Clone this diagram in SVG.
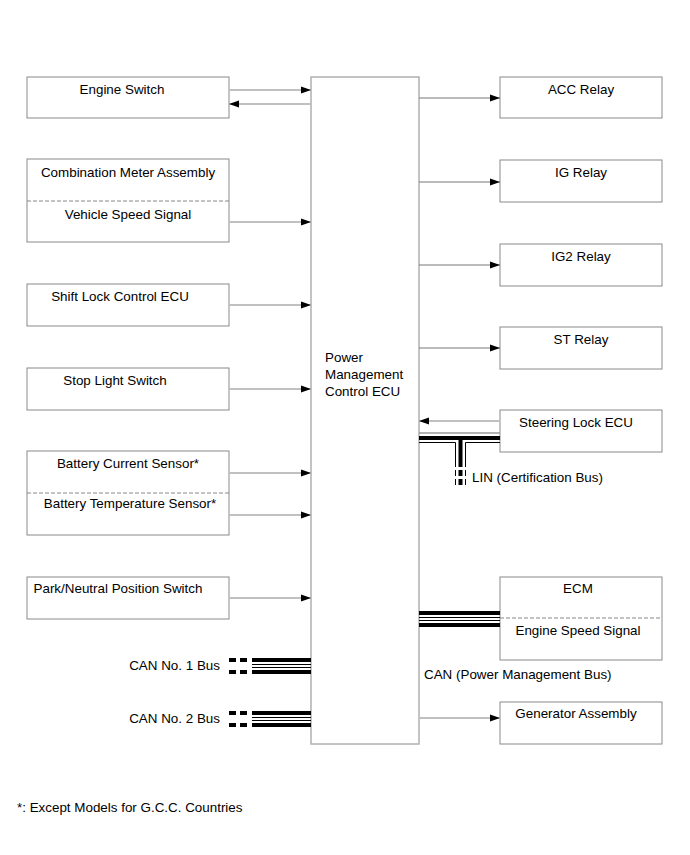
<svg xmlns="http://www.w3.org/2000/svg" width="690" height="855" viewBox="0 0 690 855">
<defs>
<marker id="ah" markerWidth="10" markerHeight="8" refX="10" refY="4" orient="auto" markerUnits="userSpaceOnUse">
<path d="M0,0.5 L10,4 L0,7.5 Z" fill="#000"/>
</marker>
<style>
.box{fill:#fff;stroke:#8a8a8a;stroke-width:1}
.ecu{fill:#fff;stroke:#b0b0b0;stroke-width:1.5}
.dash{stroke:#888;stroke-width:1;stroke-dasharray:4,2;fill:none}
.t{font-family:"Liberation Sans",Arial,sans-serif;font-size:13.4px;fill:#000}
.c{text-anchor:middle}
.la{stroke:#c0c0c0;stroke-width:2;fill:none;marker-end:url(#ah)}
.ra{stroke:#777;stroke-width:1;fill:none;marker-end:url(#ah)}
.bk{stroke:#000;stroke-width:4;fill:none}
.th{stroke:#000;stroke-width:1;fill:none}
.tg{stroke:#999;stroke-width:1.5;fill:none}
.bd{stroke:#000;stroke-width:4;fill:none;stroke-dasharray:7,4}
</style>
</defs>
<rect width="690" height="855" fill="#fff"/>

<g id="ecu">
<rect class="ecu" x="311" y="77" width="108" height="667"/>
<text class="t" x="325" y="362">Power</text>
<text class="t" x="325" y="379">Management</text>
<text class="t" x="325" y="396">Control ECU</text>
</g>

<g id="engine-switch">
<rect class="box" x="27" y="77" width="202" height="41"/>
<text class="t c" x="122" y="94">Engine Switch</text>
</g>
<g id="combination-meter">
<rect class="box" x="27" y="159" width="202" height="83"/>
<line class="dash" x1="27" y1="201" x2="229" y2="201"/>
<text class="t c" x="128" y="177">Combination Meter Assembly</text>
<text class="t c" x="128" y="219">Vehicle Speed Signal</text>
</g>
<g id="shift-lock">
<rect class="box" x="27" y="284" width="202" height="42"/>
<text class="t c" x="120" y="301">Shift Lock Control ECU</text>
</g>
<g id="stop-light">
<rect class="box" x="27" y="368" width="202" height="42"/>
<text class="t c" x="115" y="385">Stop Light Switch</text>
</g>
<g id="battery">
<rect class="box" x="27" y="451" width="202" height="84"/>
<line class="dash" x1="27" y1="493" x2="229" y2="493"/>
<text class="t c" x="128" y="468">Battery Current Sensor*</text>
<text class="t c" x="130" y="508">Battery Temperature Sensor*</text>
</g>
<g id="park-neutral">
<rect class="box" x="27" y="577" width="202" height="42"/>
<text class="t c" x="118" y="593">Park/Neutral Position Switch</text>
</g>

<g id="acc-relay">
<rect class="box" x="500" y="77" width="162" height="41"/>
<text class="t c" x="581" y="94">ACC Relay</text>
</g>
<g id="ig-relay">
<rect class="box" x="500" y="160" width="162" height="42"/>
<text class="t c" x="581" y="177">IG Relay</text>
</g>
<g id="ig2-relay">
<rect class="box" x="500" y="244" width="162" height="42"/>
<text class="t c" x="581" y="261">IG2 Relay</text>
</g>
<g id="st-relay">
<rect class="box" x="500" y="327" width="162" height="42"/>
<text class="t c" x="581" y="344">ST Relay</text>
</g>
<g id="steering-lock">
<rect class="box" x="500" y="410" width="162" height="42"/>
<text class="t c" x="576" y="427">Steering Lock ECU</text>
</g>
<g id="ecm">
<rect class="box" x="500" y="577" width="162" height="83"/>
<line class="dash" x1="500" y1="618" x2="662" y2="618"/>
<text class="t c" x="578" y="593">ECM</text>
<text class="t c" x="578" y="635">Engine Speed Signal</text>
</g>
<g id="generator">
<rect class="box" x="500" y="702" width="162" height="42"/>
<text class="t c" x="576" y="718">Generator Assembly</text>
</g>

<g id="connectors">
<line class="la" x1="229" y1="90" x2="311" y2="90"/>
<line class="la" x1="311" y1="104" x2="229" y2="104"/>
<line class="la" x1="229" y1="222" x2="311" y2="222"/>
<line class="la" x1="229" y1="305" x2="311" y2="305"/>
<line class="la" x1="229" y1="389" x2="311" y2="389"/>
<line class="la" x1="229" y1="473" x2="311" y2="473"/>
<line class="la" x1="229" y1="515" x2="311" y2="515"/>
<line class="la" x1="229" y1="598" x2="311" y2="598"/>

<line class="ra" x1="419" y1="98" x2="500" y2="98"/>
<line class="ra" x1="419" y1="182" x2="500" y2="182"/>
<line class="ra" x1="419" y1="265" x2="500" y2="265"/>
<line class="ra" x1="419" y1="348" x2="500" y2="348"/>
<line class="la" x1="500" y1="421" x2="419" y2="421"/>
<line class="la" x1="419" y1="718" x2="500" y2="718"/>

<!-- LIN bus -->
<line class="tg" x1="419" y1="433" x2="500" y2="433"/>
<line class="bk" x1="419" y1="438" x2="500" y2="438"/>
<path class="th" d="M419,442.5 H455.5 V467"/>
<path class="th" d="M500,442.5 H465.5 V467"/>
<line class="bk" x1="460.5" y1="440" x2="460.5" y2="467"/>
<line stroke="#000" stroke-width="1" stroke-dasharray="6,3" x1="455.5" y1="470" x2="455.5" y2="487"/>
<line stroke="#000" stroke-width="1" stroke-dasharray="6,3" x1="465.5" y1="470" x2="465.5" y2="487"/>
<line stroke="#000" stroke-width="4" stroke-dasharray="6,3" x1="460.5" y1="470" x2="460.5" y2="487"/>

<!-- CAN power management bus -->
<line class="bk" x1="419" y1="613" x2="500" y2="613"/>
<line class="th" x1="419" y1="617.5" x2="500" y2="617.5"/>
<line class="th" x1="419" y1="620.5" x2="500" y2="620.5"/>
<line class="bk" x1="419" y1="625" x2="500" y2="625"/>

<!-- CAN No.1 -->
<line class="bk" x1="252" y1="660" x2="311" y2="660"/>
<line class="th" x1="252" y1="664.5" x2="311" y2="664.5"/>
<line class="th" x1="252" y1="667.5" x2="311" y2="667.5"/>
<line class="bk" x1="252" y1="672" x2="311" y2="672"/>
<line class="bd" x1="229" y1="660" x2="249" y2="660"/>
<line class="bd" x1="229" y1="672" x2="249" y2="672"/>

<!-- CAN No.2 -->
<line class="bk" x1="252" y1="713" x2="311" y2="713"/>
<line class="th" x1="252" y1="717.5" x2="311" y2="717.5"/>
<line class="th" x1="252" y1="720.5" x2="311" y2="720.5"/>
<line class="bk" x1="252" y1="725" x2="311" y2="725"/>
<line class="bd" x1="229" y1="713" x2="249" y2="713"/>
<line class="bd" x1="229" y1="725" x2="249" y2="725"/>
</g>

<g id="labels">
<text class="t" x="472" y="482">LIN (Certification Bus)</text>
<text class="t" x="424" y="679">CAN (Power Management Bus)</text>
<text class="t" x="220" y="670" text-anchor="end">CAN No. 1 Bus</text>
<text class="t" x="220" y="723" text-anchor="end">CAN No. 2 Bus</text>
<text class="t" x="17" y="812">*: Except Models for G.C.C. Countries</text>
</g>
</svg>
